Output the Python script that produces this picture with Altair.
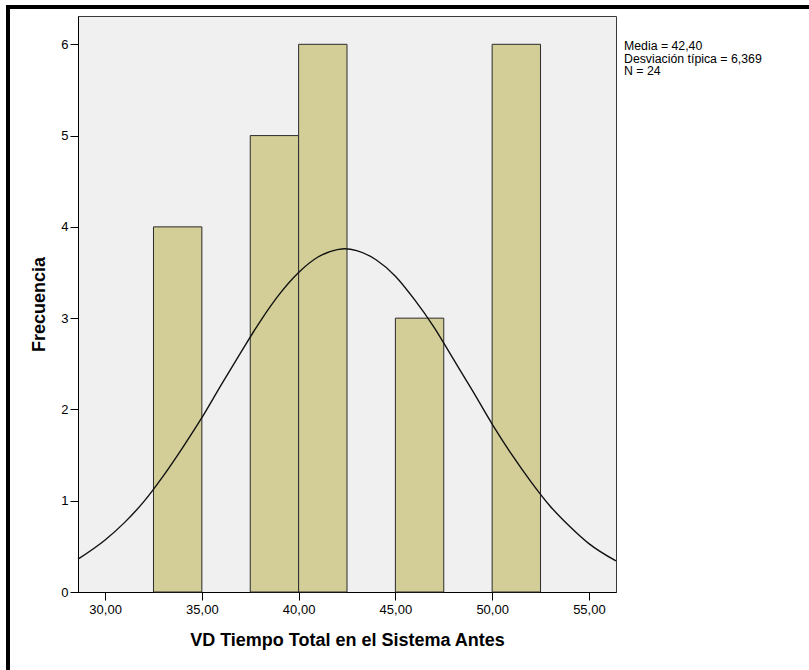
import altair as alt
import pandas as pd

# Histogram bins
bin_start = [32.5, 37.5, 40.0, 45.0, 50.0]
bin_end = [35.0, 40.0, 42.5, 47.5, 52.5]
freq = [4, 5, 6, 3, 6]

# Fitted normal curve
curve_x = [28.6, 30, 31, 32, 33, 34, 35, 36, 37, 38, 39, 40, 41, 42, 42.4,
           43, 44, 45, 46, 47, 48, 49, 50, 51, 52, 53, 54, 55, 56.4]
curve_y = [0.36, 0.57, 0.76, 0.99, 1.27, 1.58, 1.91, 2.27, 2.62, 2.96, 3.26,
           3.50, 3.67, 3.75, 3.76, 3.74, 3.64, 3.46, 3.20, 2.90, 2.55, 2.20,
           1.84, 1.51, 1.21, 0.94, 0.72, 0.53, 0.34]

x_ticks = [30, 35, 40, 45, 50, 55]
y_ticks = [0, 1, 2, 3, 4, 5, 6]
stats_lines = ["Media = 42,40", "Desviación típica = 6,369", "N = 24"]

x_title = "VD Tiempo Total en el Sistema Antes"
y_title = "Frecuencia"

bars_df = pd.DataFrame({"start": bin_start, "end": bin_end, "freq": freq})
curve_df = pd.DataFrame({"x": curve_x, "y": curve_y})

FONT = "Liberation Sans"

x_scale = alt.Scale(domain=[28.6, 56.4], nice=False, zero=False)
y_scale = alt.Scale(domain=[0, 6.31], nice=False)

x_axis = alt.Axis(
    title=x_title, values=x_ticks,
    labelExpr="replace(format(datum.value, '.2f'), '.', ',')",
    grid=False, tickSize=8, labelPadding=3, domainColor="black",
    tickColor="black", labelColor="black", labelFont=FONT, labelFontSize=13,
    titleFont=FONT, titleFontSize=18, titleFontWeight="bold", titleColor="black",
    titlePadding=15,
)
y_axis = alt.Axis(
    title=y_title, values=y_ticks, format="d",
    grid=False, tickSize=8, labelPadding=2, domainColor="black",
    tickColor="black", labelColor="black", labelFont=FONT, labelFontSize=13,
    titleFont=FONT, titleFontSize=18, titleFontWeight="bold", titleColor="black",
    titlePadding=12,
)

bars = alt.Chart(bars_df).mark_rect(
    fill="#D3CE97", stroke="#2b2b2b", strokeWidth=1
).encode(
    x=alt.X("start:Q", scale=x_scale, axis=x_axis),
    x2="end:Q",
    y=alt.Y("freq:Q", scale=y_scale, axis=y_axis),
    y2=alt.datum(0),
)

curve = alt.Chart(curve_df).mark_line(
    color="#111111", strokeWidth=1.4, interpolate="monotone"
).encode(
    x=alt.X("x:Q", scale=x_scale),
    y=alt.Y("y:Q", scale=y_scale),
)

stats = alt.Chart(pd.DataFrame({"k": [0]})).mark_text(
    text=stats_lines, align="left", baseline="top", font=FONT, fontSize=12.3,
    lineHeight=12.5, color="black"
).encode(x=alt.value(546), y=alt.value(24))

frame_top = alt.Chart(pd.DataFrame({"k": [0]})).mark_rule(
    color="black", strokeWidth=4
).encode(x=alt.value(-72), x2=alt.value(740), y=alt.value(-9))

frame_left = alt.Chart(pd.DataFrame({"k": [0]})).mark_rule(
    color="black", strokeWidth=4
).encode(x=alt.value(-70), y=alt.value(-11), y2=alt.value(660))

chart = alt.layer(bars, curve, stats, frame_top, frame_left).properties(
    width=538, height=576,
    autosize=alt.AutoSizeParams(type="none"),
    padding={"left": 78, "top": 16, "right": 193, "bottom": 78},
    background="white",
).configure_view(
    fill="#F0F0F0", stroke="#3a3a3a", strokeWidth=1
)

chart.save("out.html", embed_options={"renderer": "svg", "actions": False})
